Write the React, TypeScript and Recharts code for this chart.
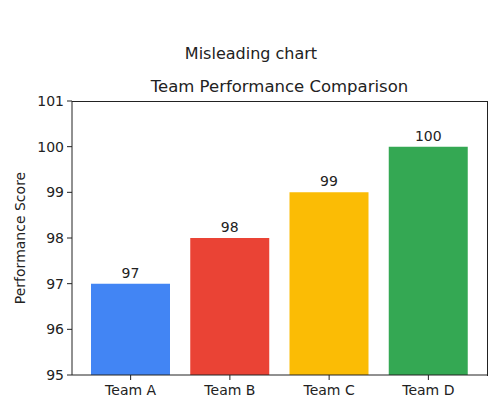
import { Bar, BarChart, Cell, LabelList, XAxis, YAxis } from 'recharts';

const teams = ['Team A', 'Team B', 'Team C', 'Team D'];
const scores = [97, 98, 99, 100];
const colors = ['#4285F4', '#EA4335', '#FBBC05', '#34A853'];
const yTicks = [95, 96, 97, 98, 99, 100, 101];

const data = teams.map((team, i) => ({ team, score: scores[i] }));

const font = '"DejaVu Sans", sans-serif';
const ink = '#222';

// plot area box (chart margins + axis sizes below)
const plot = { left: 72, top: 101, width: 415, height: 274 };

export default function App() {
  return (
    <div style={{ position: 'absolute', left: 0, top: 0, width: 502, height: 410, background: '#fff', fontFamily: font }}>
      <div style={{ position: 'absolute', top: 44, left: 0, width: 502, textAlign: 'center', fontSize: 16, color: ink }}>
        Misleading chart
      </div>
      <div style={{ position: 'absolute', top: 77, left: 72, width: 415, textAlign: 'center', fontSize: 16.5, color: ink }}>
        Team Performance Comparison
      </div>
      <BarChart
        width={502}
        height={410}
        data={data}
        margin={{ top: plot.top, right: 502 - plot.left - plot.width, bottom: 0, left: 0 }}
        barSize={79}
      >
        <XAxis
          dataKey="team"
          height={410 - plot.top - plot.height}
          padding={{ left: 9, right: 9 }}
          stroke={ink}
          tick={{ fill: ink, fontSize: 14, fontFamily: font }}
          tickSize={5}
          tickMargin={5}
        />
        <YAxis
          domain={[95, 101]}
          ticks={yTicks}
          allowDataOverflow
          width={plot.left}
          stroke={ink}
          tick={{ fill: ink, fontSize: 14, fontFamily: font }}
          tickSize={5}
          tickMargin={3}
          label={{
            value: 'Performance Score',
            angle: -90,
            position: 'insideLeft',
            offset: 20,
            style: { textAnchor: 'middle', fill: ink, fontSize: 14, fontFamily: font },
          }}
        />
        <Bar dataKey="score" isAnimationActive={false}>
          {data.map((d, i) => (
            <Cell key={d.team} fill={colors[i]} />
          ))}
          <LabelList dataKey="score" position="top" offset={6} fill={ink} fontSize={14} fontFamily={font} />
        </Bar>
      </BarChart>
      {/* top and right spines */}
      <div
        style={{
          position: 'absolute',
          left: plot.left - 0.5,
          top: plot.top - 0.5,
          width: plot.width,
          height: plot.height,
          borderTop: `1px solid ${ink}`,
          borderRight: `1px solid ${ink}`,
          pointerEvents: 'none',
        }}
      />
    </div>
  );
}
